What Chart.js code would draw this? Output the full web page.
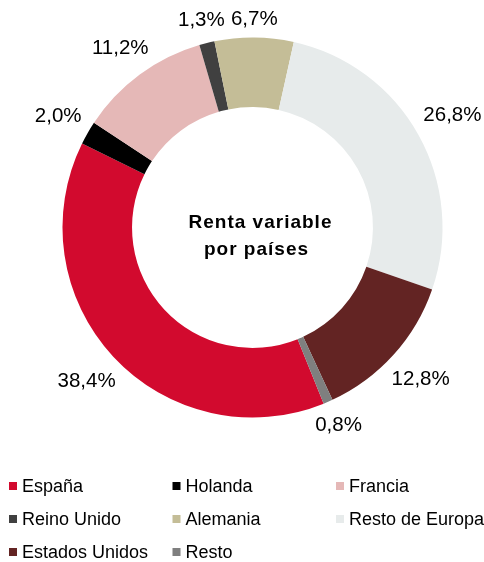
<!DOCTYPE html>
<html>
<head>
<meta charset="utf-8">
<script src="https://cdn.jsdelivr.net/npm/chart.js@4.4.1/dist/chart.umd.min.js"></script>
<style>
	html, body { margin: 0; padding: 0; background: #fff; }
	#wrap { position: relative; width: 484px; height: 562px; }
</style>
</head>
<body>
<div id="wrap"><canvas id="myChart" width="484" height="562"></canvas></div>
<script>
// Datos
const paises = ['España', 'Holanda', 'Francia', 'Reino Unido', 'Alemania', 'Resto de Europa', 'Estados Unidos', 'Resto'];
const porcentajes = [38.4, 2.0, 11.2, 1.3, 6.7, 26.8, 12.8, 0.8];
const colores = ['#D20A2E', '#000000', '#E5B8B7', '#404040', '#C4BD97', '#E7EBEB', '#632423', '#7F7F7F'];
const tituloCentro = ['Renta variable', 'por países'];

(() => {
	'use strict'

	const fmt = (v) => v.toFixed(1).replace('.', ',') + '%';

	// etiquetas fuera de cada sector
	const etiquetas = {
		id: 'etiquetas',
		afterDatasetsDraw(chart) {
			const ctx = chart.ctx;
			const meta = chart.getDatasetMeta(0);
			ctx.save();
			ctx.font = '20.5px "Liberation Sans", Arial, sans-serif';
			ctx.fillStyle = '#000';
			ctx.textAlign = 'center';
			ctx.textBaseline = 'middle';
			meta.data.forEach((arc, i) => {
				const mid = (arc.startAngle + arc.endAngle) / 2;
				const txt = fmt(porcentajes[i]);
				const hw = ctx.measureText(txt).width / 2;
				const hh = 7.5;
				const c = Math.cos(mid), s = Math.sin(mid);
				const d = arc.outerRadius + 10 + hw * Math.abs(c) + hh * Math.abs(s);
				ctx.fillText(txt, arc.x + c * d, arc.y + s * d);
			});

			// texto central
			const arc0 = meta.data[0];
			ctx.font = 'bold 19px "Liberation Sans", Arial, sans-serif';
			ctx.letterSpacing = '1px';
			ctx.textBaseline = 'alphabetic';
			ctx.fillText(tituloCentro[0], arc0.x + 8, arc0.y + 0.5);
			ctx.fillText(tituloCentro[1], arc0.x + 4, arc0.y + 27);
			ctx.restore();
		}
	};

	// leyenda en tres columnas
	const leyenda = {
		id: 'leyenda',
		afterDraw(chart) {
			const ctx = chart.ctx;
			ctx.save();
			ctx.font = '18px "Liberation Sans", Arial, sans-serif';
			ctx.textBaseline = 'middle';
			ctx.textAlign = 'left';
			paises.forEach((p, i) => {
				const col = i % 3, row = Math.floor(i / 3);
				const x = 9 + col * 163.5;
				const y = 486 + row * 33;
				ctx.fillStyle = colores[i];
				ctx.fillRect(x, y - 4, 8, 8);
				ctx.fillStyle = '#000';
				ctx.fillText(p, x + 13, y + 1);
			});
			ctx.restore();
		}
	};

	const ctx = document.getElementById('myChart');
	// eslint-disable-next-line no-unused-vars
	const myChart = new Chart(ctx, {
		type: 'doughnut',
		data: {
			labels: paises,
			datasets: [{
				data: porcentajes,
				backgroundColor: colores,
				borderWidth: 0,
				hoverOffset: 0,
				offset: 0
			}]
		},
		options: {
			responsive: false,
			animation: false,
			events: [],
			rotation: 158,
			cutout: '63.4%',
			layout: {
				padding: { left: 62.5, right: 41.5, top: 37.5, bottom: 144.5 }
			},
			plugins: {
				legend: { display: false },
				tooltip: { enabled: false }
			}
		},
		plugins: [etiquetas, leyenda]
	});
})();
</script>
</body>
</html>
